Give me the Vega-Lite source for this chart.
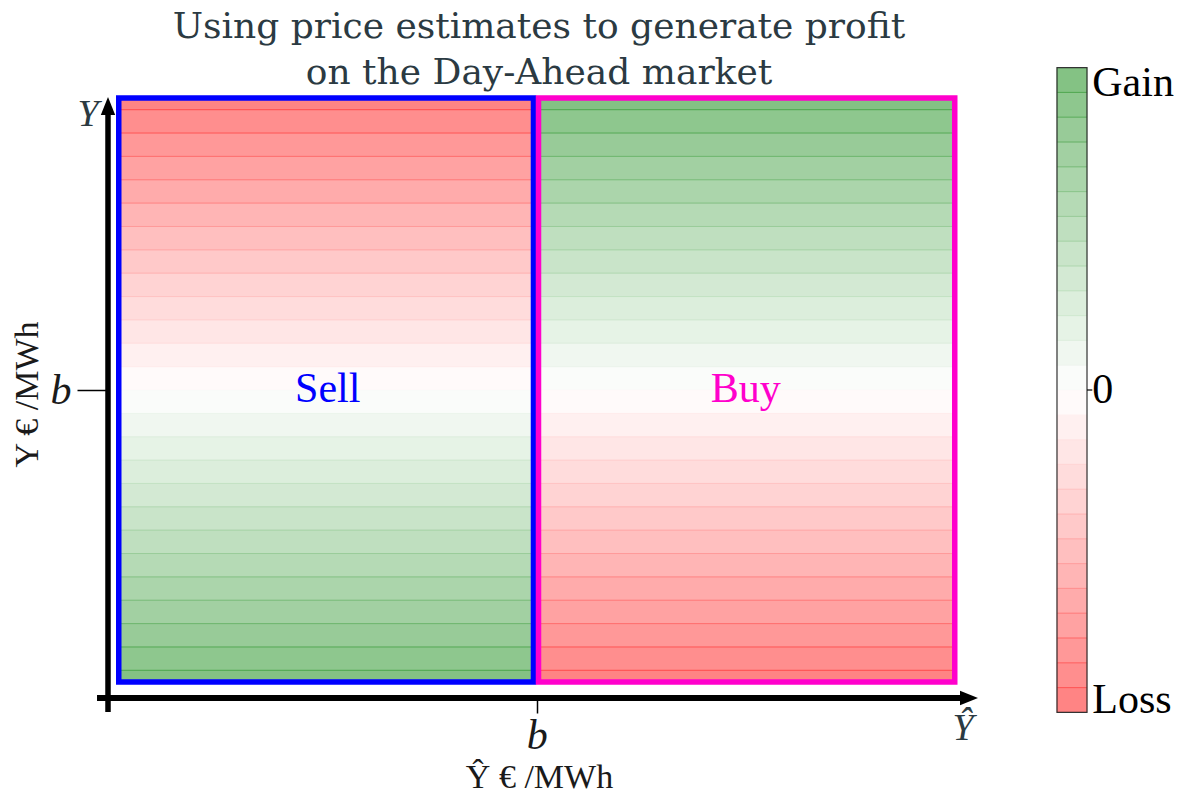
{
  "$schema": "https://vega.github.io/schema/vega-lite/v6.json",
  "width": 862,
  "height": 608,
  "autosize": {"type": "none"},
  "padding": {"left": 108, "top": 90, "right": 214, "bottom": 102},
  "background": "white",
  "title": {
    "text": ["Using price estimates to generate profit", "on the Day-Ahead market"],
    "font": "DejaVu Serif",
    "fontSize": 36,
    "fontWeight": "normal",
    "color": "#2b3a42",
    "anchor": "middle",
    "lineHeight": 46,
    "offset": -30
  },
  "config": {"view": {"stroke": null}},
  "datasets": {
    "cells": [
      {"group": "Sell", "x1": -1, "x2": -0.0078, "y1": 0, "y2": 0.08, "v": -0.0385},
      {"group": "Sell", "x1": -1, "x2": -0.0078, "y1": 0.08, "y2": 0.16, "v": -0.1154},
      {"group": "Sell", "x1": -1, "x2": -0.0078, "y1": 0.16, "y2": 0.24, "v": -0.1923},
      {"group": "Sell", "x1": -1, "x2": -0.0078, "y1": 0.24, "y2": 0.32, "v": -0.2692},
      {"group": "Sell", "x1": -1, "x2": -0.0078, "y1": 0.32, "y2": 0.40, "v": -0.3462},
      {"group": "Sell", "x1": -1, "x2": -0.0078, "y1": 0.40, "y2": 0.48, "v": -0.4231},
      {"group": "Sell", "x1": -1, "x2": -0.0078, "y1": 0.48, "y2": 0.56, "v": -0.5},
      {"group": "Sell", "x1": -1, "x2": -0.0078, "y1": 0.56, "y2": 0.64, "v": -0.5769},
      {"group": "Sell", "x1": -1, "x2": -0.0078, "y1": 0.64, "y2": 0.72, "v": -0.6538},
      {"group": "Sell", "x1": -1, "x2": -0.0078, "y1": 0.72, "y2": 0.80, "v": -0.7308},
      {"group": "Sell", "x1": -1, "x2": -0.0078, "y1": 0.80, "y2": 0.88, "v": -0.8077},
      {"group": "Sell", "x1": -1, "x2": -0.0078, "y1": 0.88, "y2": 0.96, "v": -0.8846},
      {"group": "Sell", "x1": -1, "x2": -0.0078, "y1": 0.96, "y2": 1.0, "v": -0.9615},
      {"group": "Sell", "x1": -1, "x2": -0.0078, "y1": -0.08, "y2": 0, "v": 0.0385},
      {"group": "Sell", "x1": -1, "x2": -0.0078, "y1": -0.16, "y2": -0.08, "v": 0.1154},
      {"group": "Sell", "x1": -1, "x2": -0.0078, "y1": -0.24, "y2": -0.16, "v": 0.1923},
      {"group": "Sell", "x1": -1, "x2": -0.0078, "y1": -0.32, "y2": -0.24, "v": 0.2692},
      {"group": "Sell", "x1": -1, "x2": -0.0078, "y1": -0.40, "y2": -0.32, "v": 0.3462},
      {"group": "Sell", "x1": -1, "x2": -0.0078, "y1": -0.48, "y2": -0.40, "v": 0.4231},
      {"group": "Sell", "x1": -1, "x2": -0.0078, "y1": -0.56, "y2": -0.48, "v": 0.5},
      {"group": "Sell", "x1": -1, "x2": -0.0078, "y1": -0.64, "y2": -0.56, "v": 0.5769},
      {"group": "Sell", "x1": -1, "x2": -0.0078, "y1": -0.72, "y2": -0.64, "v": 0.6538},
      {"group": "Sell", "x1": -1, "x2": -0.0078, "y1": -0.80, "y2": -0.72, "v": 0.7308},
      {"group": "Sell", "x1": -1, "x2": -0.0078, "y1": -0.88, "y2": -0.80, "v": 0.8077},
      {"group": "Sell", "x1": -1, "x2": -0.0078, "y1": -0.96, "y2": -0.88, "v": 0.8846},
      {"group": "Sell", "x1": -1, "x2": -0.0078, "y1": -1.0, "y2": -0.96, "v": 0.9615},
      {"group": "Buy", "x1": 0.0042, "x2": 1, "y1": 0, "y2": 0.08, "v": 0.0385},
      {"group": "Buy", "x1": 0.0042, "x2": 1, "y1": 0.08, "y2": 0.16, "v": 0.1154},
      {"group": "Buy", "x1": 0.0042, "x2": 1, "y1": 0.16, "y2": 0.24, "v": 0.1923},
      {"group": "Buy", "x1": 0.0042, "x2": 1, "y1": 0.24, "y2": 0.32, "v": 0.2692},
      {"group": "Buy", "x1": 0.0042, "x2": 1, "y1": 0.32, "y2": 0.40, "v": 0.3462},
      {"group": "Buy", "x1": 0.0042, "x2": 1, "y1": 0.40, "y2": 0.48, "v": 0.4231},
      {"group": "Buy", "x1": 0.0042, "x2": 1, "y1": 0.48, "y2": 0.56, "v": 0.5},
      {"group": "Buy", "x1": 0.0042, "x2": 1, "y1": 0.56, "y2": 0.64, "v": 0.5769},
      {"group": "Buy", "x1": 0.0042, "x2": 1, "y1": 0.64, "y2": 0.72, "v": 0.6538},
      {"group": "Buy", "x1": 0.0042, "x2": 1, "y1": 0.72, "y2": 0.80, "v": 0.7308},
      {"group": "Buy", "x1": 0.0042, "x2": 1, "y1": 0.80, "y2": 0.88, "v": 0.8077},
      {"group": "Buy", "x1": 0.0042, "x2": 1, "y1": 0.88, "y2": 0.96, "v": 0.8846},
      {"group": "Buy", "x1": 0.0042, "x2": 1, "y1": 0.96, "y2": 1.0, "v": 0.9615},
      {"group": "Buy", "x1": 0.0042, "x2": 1, "y1": -0.08, "y2": 0, "v": -0.0385},
      {"group": "Buy", "x1": 0.0042, "x2": 1, "y1": -0.16, "y2": -0.08, "v": -0.1154},
      {"group": "Buy", "x1": 0.0042, "x2": 1, "y1": -0.24, "y2": -0.16, "v": -0.1923},
      {"group": "Buy", "x1": 0.0042, "x2": 1, "y1": -0.32, "y2": -0.24, "v": -0.2692},
      {"group": "Buy", "x1": 0.0042, "x2": 1, "y1": -0.40, "y2": -0.32, "v": -0.3462},
      {"group": "Buy", "x1": 0.0042, "x2": 1, "y1": -0.48, "y2": -0.40, "v": -0.4231},
      {"group": "Buy", "x1": 0.0042, "x2": 1, "y1": -0.56, "y2": -0.48, "v": -0.5},
      {"group": "Buy", "x1": 0.0042, "x2": 1, "y1": -0.64, "y2": -0.56, "v": -0.5769},
      {"group": "Buy", "x1": 0.0042, "x2": 1, "y1": -0.72, "y2": -0.64, "v": -0.6538},
      {"group": "Buy", "x1": 0.0042, "x2": 1, "y1": -0.80, "y2": -0.72, "v": -0.7308},
      {"group": "Buy", "x1": 0.0042, "x2": 1, "y1": -0.88, "y2": -0.80, "v": -0.8077},
      {"group": "Buy", "x1": 0.0042, "x2": 1, "y1": -0.96, "y2": -0.88, "v": -0.8846},
      {"group": "Buy", "x1": 0.0042, "x2": 1, "y1": -1.0, "y2": -0.96, "v": -0.9615},
      {"group": "bar", "x1": 1.2446, "x2": 1.3164, "y1": -1.104, "y2": -1.0191, "v": -0.9615},
      {"group": "bar", "x1": 1.2446, "x2": 1.3164, "y1": -1.0191, "y2": -0.9342, "v": -0.8846},
      {"group": "bar", "x1": 1.2446, "x2": 1.3164, "y1": -0.9342, "y2": -0.8492, "v": -0.8077},
      {"group": "bar", "x1": 1.2446, "x2": 1.3164, "y1": -0.8492, "y2": -0.7643, "v": -0.7308},
      {"group": "bar", "x1": 1.2446, "x2": 1.3164, "y1": -0.7643, "y2": -0.6794, "v": -0.6538},
      {"group": "bar", "x1": 1.2446, "x2": 1.3164, "y1": -0.6794, "y2": -0.5945, "v": -0.5769},
      {"group": "bar", "x1": 1.2446, "x2": 1.3164, "y1": -0.5945, "y2": -0.5095, "v": -0.5},
      {"group": "bar", "x1": 1.2446, "x2": 1.3164, "y1": -0.5095, "y2": -0.4246, "v": -0.4231},
      {"group": "bar", "x1": 1.2446, "x2": 1.3164, "y1": -0.4246, "y2": -0.3397, "v": -0.3462},
      {"group": "bar", "x1": 1.2446, "x2": 1.3164, "y1": -0.3397, "y2": -0.2548, "v": -0.2692},
      {"group": "bar", "x1": 1.2446, "x2": 1.3164, "y1": -0.2548, "y2": -0.1698, "v": -0.1923},
      {"group": "bar", "x1": 1.2446, "x2": 1.3164, "y1": -0.1698, "y2": -0.0849, "v": -0.1154},
      {"group": "bar", "x1": 1.2446, "x2": 1.3164, "y1": -0.0849, "y2": 0, "v": -0.0385},
      {"group": "bar", "x1": 1.2446, "x2": 1.3164, "y1": 0, "y2": 0.0849, "v": 0.0385},
      {"group": "bar", "x1": 1.2446, "x2": 1.3164, "y1": 0.0849, "y2": 0.1698, "v": 0.1154},
      {"group": "bar", "x1": 1.2446, "x2": 1.3164, "y1": 0.1698, "y2": 0.2548, "v": 0.1923},
      {"group": "bar", "x1": 1.2446, "x2": 1.3164, "y1": 0.2548, "y2": 0.3397, "v": 0.2692},
      {"group": "bar", "x1": 1.2446, "x2": 1.3164, "y1": 0.3397, "y2": 0.4246, "v": 0.3462},
      {"group": "bar", "x1": 1.2446, "x2": 1.3164, "y1": 0.4246, "y2": 0.5095, "v": 0.4231},
      {"group": "bar", "x1": 1.2446, "x2": 1.3164, "y1": 0.5095, "y2": 0.5945, "v": 0.5},
      {"group": "bar", "x1": 1.2446, "x2": 1.3164, "y1": 0.5945, "y2": 0.6794, "v": 0.5769},
      {"group": "bar", "x1": 1.2446, "x2": 1.3164, "y1": 0.6794, "y2": 0.7643, "v": 0.6538},
      {"group": "bar", "x1": 1.2446, "x2": 1.3164, "y1": 0.7643, "y2": 0.8492, "v": 0.7308},
      {"group": "bar", "x1": 1.2446, "x2": 1.3164, "y1": 0.8492, "y2": 0.9342, "v": 0.8077},
      {"group": "bar", "x1": 1.2446, "x2": 1.3164, "y1": 0.9342, "y2": 1.0191, "v": 0.8846},
      {"group": "bar", "x1": 1.2446, "x2": 1.3164, "y1": 1.0191, "y2": 1.104, "v": 0.9615}
    ],
    "panels": [
      {"group": "Sell", "x1": -1, "x2": -0.0078, "y1": -1, "y2": 1},
      {"group": "Buy", "x1": 0.0042, "x2": 1, "y1": -1, "y2": 1}
    ],
    "barframe": [
      {"x1": 1.2446, "x2": 1.3164, "y1": -1.104, "y2": 1.104}
    ],
    "vaxis": [
      {"x1": -1.02572, "y1": -1.1027, "y2": 0.96}
    ],
    "haxis": [
      {"x1": -1.052, "x2": 1.02, "y1": -1.05479},
      {"x1": 1.3164, "x2": 1.329, "y1": 0}
    ],
    "uparrow": [{"x1": -1.02572, "y1": 0.9726}],
    "rightarrow": [{"x1": 1.0341, "y1": -1.05479}],
    "regionlabels": [
      {"group": "Sell", "label": "Sell", "x1": -0.5, "y1": 0.005},
      {"group": "Buy", "label": "Buy", "x1": 0.5, "y1": 0.005}
    ],
    "varlabels": [
      {"label": "Y", "x1": -1.0736, "y1": 0.942},
      {"label": "Ŷ", "x1": 1.0197, "y1": -1.16}
    ],
    "barlabels": [
      {"label": "Gain", "x1": 1.329, "y1": 1.052},
      {"label": "0", "x1": 1.329, "y1": 0},
      {"label": "Loss", "x1": 1.329, "y1": -1.06}
    ]
  },
  "encoding": {
    "x": {
      "field": "x1",
      "type": "quantitative",
      "scale": {"domain": [-1.02572, 1.03648], "nice": false, "zero": false},
      "axis": {
        "values": [0],
        "labelExpr": "'b'",
        "labelFont": "Liberation Serif",
        "labelFontStyle": "italic",
        "labelFontSize": 42,
        "labelColor": "#1a1a1a",
        "labelPadding": 2,
        "tickSize": 15,
        "tickWidth": 1.5,
        "tickColor": "black",
        "domain": false,
        "grid": false,
        "title": "Ŷ € /MWh",
        "titleFont": "Liberation Serif",
        "titleFontSize": 34,
        "titleFontWeight": "normal",
        "titleColor": "#1a1a1a",
        "titlePadding": 4
      }
    },
    "y": {
      "field": "y1",
      "type": "quantitative",
      "scale": {"domain": [-1.05479, 1.0274], "nice": false, "zero": false},
      "axis": {
        "values": [0],
        "labelExpr": "'b'",
        "labelFont": "Liberation Serif",
        "labelFontStyle": "italic",
        "labelFontSize": 42,
        "labelColor": "#1a1a1a",
        "labelPadding": 6,
        "tickSize": 31,
        "tickWidth": 1.5,
        "tickColor": "black",
        "domain": false,
        "grid": false,
        "title": "Y € /MWh",
        "titleFont": "Liberation Serif",
        "titleFontSize": 34,
        "titleFontWeight": "normal",
        "titleColor": "#1a1a1a",
        "titlePadding": 6
      }
    }
  },
  "layer": [
    {
      "data": {"name": "cells"},
      "mark": {"type": "rect", "fillOpacity": 0.5, "strokeOpacity": 0.3, "strokeWidth": 1},
      "encoding": {
        "x2": {"field": "x2"},
        "y2": {"field": "y2"},
        "fill": {
          "field": "v",
          "type": "quantitative",
          "scale": {"domain": [-1, 0, 1], "range": ["#ff0000", "#ffffff", "#008000"], "interpolate": "rgb"},
          "legend": null
        },
        "stroke": {
          "field": "v",
          "type": "quantitative",
          "scale": {"domain": [-1, 0, 1], "range": ["#ff0000", "#ffffff", "#008000"], "interpolate": "rgb"},
          "legend": null
        }
      }
    },
    {
      "data": {"name": "barframe"},
      "mark": {"type": "rect", "fillOpacity": 0, "stroke": "#333333", "strokeWidth": 1.2},
      "encoding": {"x2": {"field": "x2"}, "y2": {"field": "y2"}}
    },
    {
      "data": {"name": "panels"},
      "transform": [{"filter": "datum.group == 'Sell'"}],
      "mark": {"type": "rect", "fillOpacity": 0, "stroke": "#0000ff", "strokeWidth": 5.5, "strokeJoin": "miter"},
      "encoding": {"x2": {"field": "x2"}, "y2": {"field": "y2"}}
    },
    {
      "data": {"name": "panels"},
      "transform": [{"filter": "datum.group == 'Buy'"}],
      "mark": {"type": "rect", "fillOpacity": 0, "stroke": "#ff00cc", "strokeWidth": 5.5, "strokeJoin": "miter"},
      "encoding": {"x2": {"field": "x2"}, "y2": {"field": "y2"}}
    },
    {
      "data": {"name": "vaxis"},
      "mark": {"type": "rule", "color": "black", "strokeWidth": 5.5},
      "encoding": {"y2": {"field": "y2"}}
    },
    {
      "data": {"name": "haxis"},
      "mark": {"type": "rule", "color": "black"},
      "encoding": {
        "x2": {"field": "x2"},
        "strokeWidth": {"condition": {"test": "datum.x1 < 0", "value": 6}, "value": 1.2}
      }
    },
    {
      "data": {"name": "uparrow"},
      "mark": {"type": "point", "shape": "M0,-1L-0.8,1L0.8,1Z", "size": 324, "filled": true, "color": "black", "opacity": 1},
      "encoding": {}
    },
    {
      "data": {"name": "rightarrow"},
      "mark": {"type": "point", "shape": "M1,0L-1,-0.8L-1,0.8Z", "size": 324, "filled": true, "color": "black", "opacity": 1},
      "encoding": {}
    },
    {
      "data": {"name": "regionlabels"},
      "transform": [{"filter": "datum.group == 'Sell'"}],
      "mark": {"type": "text", "font": "Liberation Serif", "fontSize": 42, "color": "#0000ff", "align": "center", "baseline": "middle"},
      "encoding": {"text": {"field": "label"}}
    },
    {
      "data": {"name": "regionlabels"},
      "transform": [{"filter": "datum.group == 'Buy'"}],
      "mark": {"type": "text", "font": "Liberation Serif", "fontSize": 42, "color": "#ff00cc", "align": "center", "baseline": "middle"},
      "encoding": {"text": {"field": "label"}}
    },
    {
      "data": {"name": "varlabels"},
      "mark": {"type": "text", "font": "Liberation Serif", "fontStyle": "italic", "fontSize": 38, "color": "#2b3a42", "align": "center", "baseline": "middle"},
      "encoding": {"text": {"field": "label"}}
    },
    {
      "data": {"name": "barlabels"},
      "mark": {"type": "text", "font": "Liberation Serif", "fontSize": 42, "color": "black", "align": "left", "baseline": "middle"},
      "encoding": {"text": {"field": "label"}}
    }
  ]
}
